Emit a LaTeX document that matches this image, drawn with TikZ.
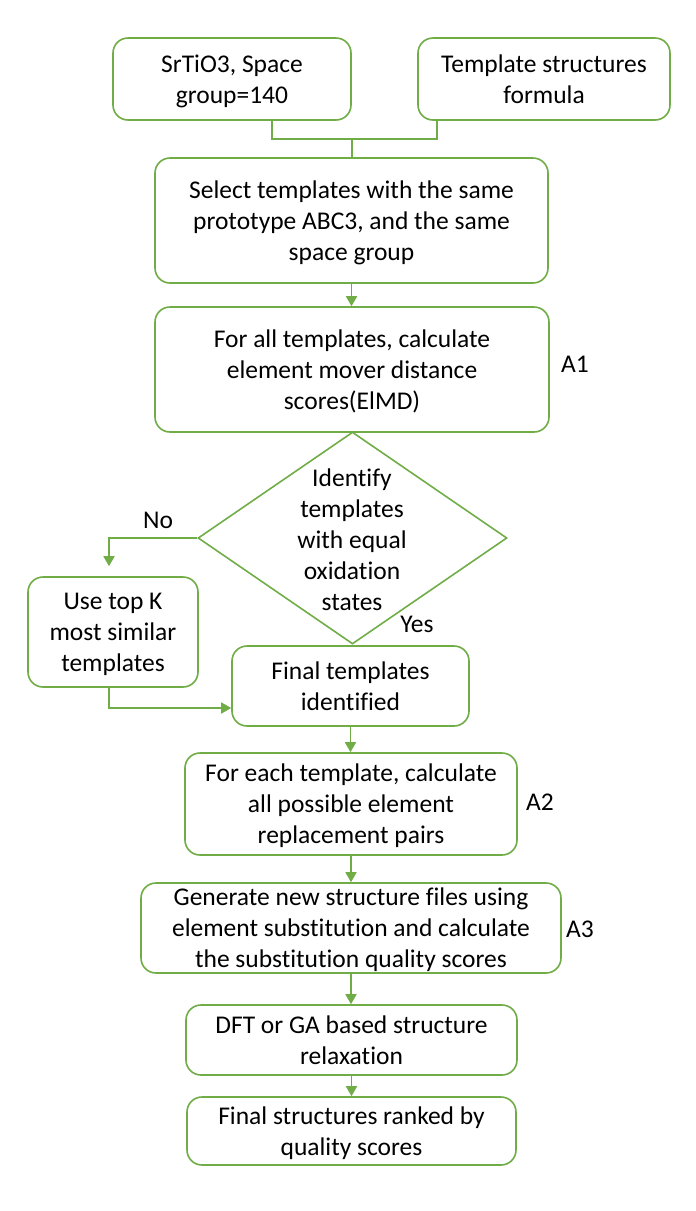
\documentclass[tikz,border=0pt]{standalone}
\usepackage{fontspec}
\setmainfont{Carlito}[Ligatures=NoCommon]
\usetikzlibrary{calc,shapes.geometric,arrows.meta}
\definecolor{flowgreen}{HTML}{70AD47}
\tikzset{
	box/.style={draw=flowgreen, line width=1.6pt, rounded corners=15pt, align=center, inner sep=0pt, font=\fontsize{25.5}{31}\selectfont, text depth=-7pt},
	link/.style={draw=flowgreen, line width=1.6pt},
	arr/.style={link, -{Triangle[width=11pt,length=10pt]}},
	tag/.style={font=\fontsize{25.5}{31}\selectfont}
}

\begin{document}
\begin{tikzpicture}[x=1pt, y=-1pt]
			%%%%% START %%%%%
			\useasboundingbox (0, 0) rectangle (696, 1211);
			
			\node[box, minimum width=238, minimum height=82] (src) at (232, 79) {SrTiO3, Space\\group=140};
			\node[box, minimum width=252, minimum height=82] (tpl) at (544, 79) {Template structures\\formula};
			
			\node[box, minimum width=393, minimum height=125] (sel) at (351.5, 220.5) {Select templates with the same\\prototype ABC3, and the same\\space group};
			\node[box, minimum width=394, minimum height=125] (elmd) at (352, 369.5) {For all templates, calculate\\element mover distance\\scores(ElMD)};
			\node[tag] (a1) at (575, 364) {A1};
			
			\node[diamond, draw=flowgreen, line width=1.6pt, minimum width=309, minimum height=212, inner sep=0pt] (q) at (352.5, 538) {};
			\node[tag, align=center] (qtext) at (352, 540) {Identify\\templates\\with equal\\oxidation\\states};
			\node[tag] (no) at (158, 520) {No};
			\node[tag] (yes) at (417, 624) {Yes};
			
			\node[box, minimum width=170, minimum height=110] (topk) at (113, 632) {Use top K\\most similar\\templates};
			\node[box, minimum width=237, minimum height=80] (final) at (350.5, 686) {Final templates\\identified};
			
			\node[box, minimum width=332, minimum height=102] (pairs) at (351, 804) {For each template, calculate\\all possible element\\replacement pairs};
			\node[tag] (a2) at (540, 802) {A2};
			\node[box, minimum width=420, minimum height=90] (subst) at (351, 928) {Generate new structure files using\\element substitution and calculate\\the substitution quality scores};
			\node[tag] (a3) at (580, 929) {A3};
			\node[box, minimum width=331, minimum height=70] (relax) at (351.5, 1040) {DFT or GA based structure\\relaxation};
			\node[box, minimum width=329, minimum height=68] (rank) at (351.5, 1131) {Final structures ranked by\\quality scores};
			
			% joining the two inputs
			\coordinate (jn) at (352, 139);
			\draw[link] ([xshift=40pt]src.south) |- (jn) -| ([xshift=-107pt]tpl.south);
			\draw[link] (jn) -- (jn |- sel.north);
			
			\draw[arr] (sel.south) -- (sel.south |- elmd.north);
			\draw[arr] (q.west) -| ([xshift=-4pt, yshift=10pt]topk.north);
			\draw[arr] ([xshift=-4pt]topk.south) |- ([yshift=-22pt]final.west);
			\draw[arr] (final.south) -- (final.south |- pairs.north);
			\draw[arr] (pairs.south) -- (pairs.south |- subst.north);
			\draw[arr] (subst.south) -- (subst.south |- relax.north);
			\draw[arr] (relax.south) -- (relax.south |- rank.north);
			
			%%%%% END %%%%%
\end{tikzpicture}
\end{document}
